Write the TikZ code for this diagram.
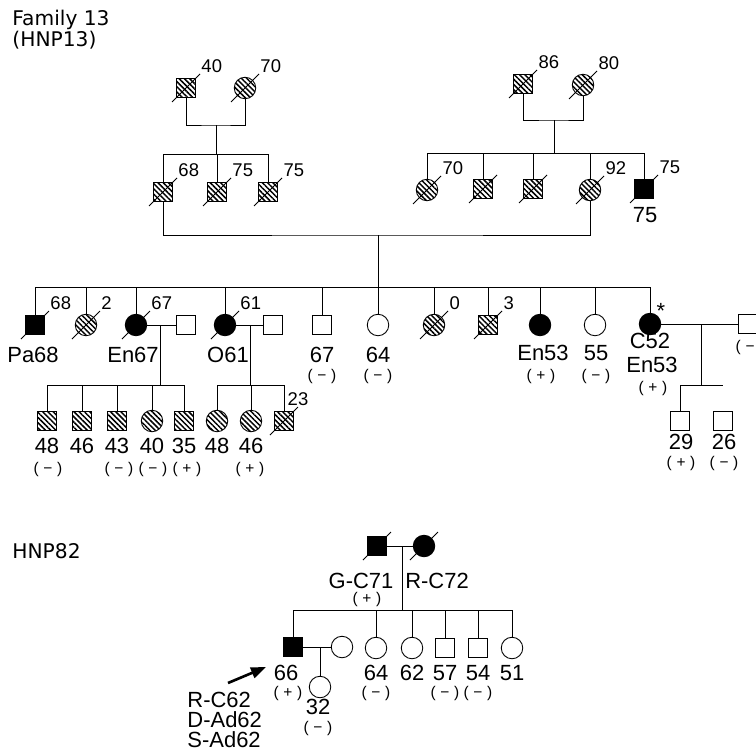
\documentclass[tikz,border=0pt]{standalone}
\usepackage{fontspec}
\setmainfont{Liberation Sans}
\newfontfamily\titulo{DejaVu Sans}
\usetikzlibrary{arrows.meta, patterns.meta}

\newcommand{\muerto}[3][south west]{%
  \draw (#2.center) ++(-14,14) -- ++(28,-28) node[edad, anchor=#1] (#2-e) {#3};}
\newcommand{\resul}[1]{(\hspace{0.3em}#1\hspace{0.3em})}

\begin{document}
\begin{tikzpicture}[x=0.02cm, y=-0.02cm, line width=0.5pt,
  >={Triangle[length=3mm, width=2.2mm]},
  varon/.style={draw, minimum size=3.7mm, inner sep=0pt},
  mujer/.style={draw, circle, minimum size=4.3mm, inner sep=0pt},
  afecto/.style={fill=black},
  rayado/.style={pattern={Lines[angle=-45, distance=2.1pt, line width=0.85pt]}},
  edad/.style={font=\fontsize{10.5}{11}\selectfont, inner sep=0.6pt},
  etiq/.style={font=\fontsize{12.5}{13}\selectfont, inner sep=0pt},
  signo/.style={font=\fontsize{8.8}{9}\selectfont, inner sep=0pt},
  tit/.style={font=\titulo\fontsize{11.5}{14}\selectfont, inner sep=0pt}]
  \useasboundingbox (0,0) rectangle (756,750);
  % títulos
  \node[tit, anchor=base west] (tit1) at (12,26) {Family 13};
  \node[tit, anchor=base west] (tit2) at (12,47) {(HNP13)};
  \node[tit, anchor=base west] (tit3) at (12,558) {HNP82};

  % generación I
  \node[varon, rayado] (I1) at (186,88) {};
  \node[mujer, rayado] (I2) at (245,88) {};
  \node[varon, rayado] (I3) at (523,84) {};
  \node[mujer, rayado] (I4) at (583,85) {};
  \muerto{I1}{40} \muerto{I2}{70} \muerto{I3}{86} \muerto{I4}{80}
  \coordinate (Im) at (216,125); \coordinate (Is) at (216,154);
  \coordinate (Jm) at (554,120); \coordinate (Js) at (554,153);
  \draw (I1.south) |- (Im) -| (I2.south) (Im) -- (Is);
  \draw (I3.south) |- (Jm) -| (I4.south) (Jm) -- (Js);

  % generación II
  \node[varon, rayado] (II1) at (163,192) {};
  \node[varon, rayado] (II2) at (217,192) {};
  \node[varon, rayado] (II3) at (268,192) {};
  \node[mujer, rayado] (II4) at (427,190) {};
  \node[varon, rayado] (II5) at (483,189) {};
  \node[varon, rayado] (II6) at (533,189) {};
  \node[mujer, rayado] (II7) at (590,190) {};
  \node[varon, afecto] (II8) at (644,189) {};
  \muerto{II1}{68} \muerto{II2}{75} \muerto{II3}{75} \muerto{II4}{70}
  \muerto{II5}{} \muerto{II6}{} \muerto{II7}{92} \muerto{II8}{75}
  \node[etiq] (II8-n) at (645,215) {75};
  \draw (Is) -| (II1.north) (Is) -| (II2.north) (Is) -| (II3.north);
  \draw (Js) -| (II4.north) (Js) -| (II5.north) (Js) -| (II6.north)
        (Js) -| (II7.north) (Js) -| (II8.north);
  \coordinate (IIm) at (378,235); \coordinate (IIs) at (378,287);
  \draw (II1.south) |- (IIm) -| (II7.south) (IIm) -- (IIs);

  % generación III
  \node[varon, afecto] (III1) at (35,325) {};
  \node[mujer, rayado] (III2) at (86,325) {};
  \node[mujer, afecto] (III3) at (136,325) {};
  \node[varon] (III4) at (186,325) {};
  \node[mujer, afecto] (III5) at (225,325) {};
  \node[varon] (III6) at (273,325) {};
  \node[varon] (III7) at (322,325) {};
  \node[mujer] (III8) at (378,325) {};
  \node[mujer, rayado] (III9) at (434,325) {};
  \node[varon, rayado] (III10) at (488,325) {};
  \node[mujer, afecto] (III11) at (540,325) {};
  \node[mujer] (III12) at (595,325) {};
  \node[mujer, afecto] (III13) at (650,324) {};
  \node[varon] (III14) at (748,324) {};
  \muerto{III1}{68} \muerto{III2}{2} \muerto{III3}{67} \muerto{III5}{61}
  \muerto{III9}{0} \muerto{III10}{3}
  \draw (IIs) -| (III1.north) (IIs) -| (III2.north) (IIs) -| (III3.north)
        (IIs) -| (III5.north) (IIs) -| (III7.north) (IIs) -- (III8.north)
        (IIs) -| (III9.north) (IIs) -| (III10.north) (IIs) -| (III11.north)
        (IIs) -| (III12.north) (IIs) -| (III13.north);
  \node[etiq] (III1-n) at (33,355) {Pa68};
  \node[etiq] (III3-n) at (133,355) {En67};
  \node[etiq] (III5-n) at (228,355) {O61};
  \node[etiq] (III7-n) at (322,355) {67};
  \node[signo] (III7-s) at (322,376) {\resul{−}};
  \node[etiq] (III8-n) at (378,355) {64};
  \node[signo] (III8-s) at (378,376) {\resul{−}};
  \node[etiq] (III11-n) at (543,353) {En53};
  \node[signo] (III11-s) at (541,376) {\resul{+}};
  \node[etiq] (III12-n) at (596,353) {55};
  \node[signo] (III12-s) at (596,376) {\resul{−}};
  \node[etiq] (III13-a) at (661,311) {*};
  \node[etiq] (III13-n) at (650,341) {C52};
  \node[etiq] (III13-m) at (652,365) {En53};
  \node[signo] (III13-s) at (653,388) {\resul{+}};
  \node[signo] (III14-s) at (750,347) {\resul{−}};
  % parejas
  \coordinate (IIIa) at (160,325); \coordinate (IVa) at (160,385);
  \coordinate (IIIb) at (250,325); \coordinate (IVb) at (250,385);
  \coordinate (IIIc) at (701,324); \coordinate (IVc) at (701,385);
  \draw (III3) -- (III4) (IIIa) -- (IVa);
  \draw (III5) -- (III6) (IIIb) -- (IVb);
  \draw (III13) -- (III14) (IIIc) -- (IVc);

  % generación IV
  \node[varon, rayado] (IV1) at (47,421) {};
  \node[varon, rayado] (IV2) at (82,421) {};
  \node[varon, rayado] (IV3) at (117,421) {};
  \node[mujer, rayado] (IV4) at (152,421) {};
  \node[varon, rayado] (IV5) at (184,421) {};
  \node[mujer, rayado] (IV6) at (217,421) {};
  \node[mujer, rayado] (IV7) at (251,421) {};
  \node[varon, rayado] (IV8) at (284,421) {};
  \node[varon] (IV9) at (680,421) {};
  \node[varon] (IV10) at (723,421) {};
  \muerto[south]{IV8}{23}
  \draw (IVa) -| (IV1.north) (IVa) -| (IV2.north) (IVa) -| (IV3.north)
        (IVa) -| (IV4.north) (IVa) -| (IV5.north);
  \draw (IVb) -| (IV6.north) (IVb) -| (IV7.north) (IVb) -| (IV8.north);
  \draw (IVc) -| (IV9.north) (IVc) -- (IVc -| IV10);
  \node[etiq] (IV1-n) at (47,446) {48};
  \node[etiq] (IV2-n) at (82,446) {46};
  \node[etiq] (IV3-n) at (117,446) {43};
  \node[etiq] (IV4-n) at (152,446) {40};
  \node[etiq] (IV5-n) at (184,446) {35};
  \node[etiq] (IV6-n) at (217,446) {48};
  \node[etiq] (IV7-n) at (251,446) {46};
  \node[signo] (IV1-s) at (48,469) {\resul{−}};
  \node[signo] (IV3-s) at (119,469) {\resul{−}};
  \node[signo] (IV4-s) at (153,469) {\resul{−}};
  \node[signo] (IV5-s) at (187,469) {\resul{+}};
  \node[signo] (IV7-s) at (250,469) {\resul{+}};
  \node[etiq] (IV9-n) at (681,442) {29};
  \node[signo] (IV9-s) at (681,463) {\resul{+}};
  \node[etiq] (IV10-n) at (724,442) {26};
  \node[signo] (IV10-s) at (724,463) {\resul{−}};

  % HNP82
  \node[varon, afecto] (PI1) at (377,546) {};
  \node[mujer, afecto] (PI2) at (424,546) {};
  \muerto{PI1}{} \muerto{PI2}{}
  \coordinate (PIm) at (402,546); \coordinate (PIs) at (402,610);
  \draw (PI1) -- (PI2) (PIm) -- (PIs);
  \node[etiq] (PI1-n) at (361,581) {G-C71};
  \node[signo] (PI1-s) at (367,599) {\resul{+}};
  \node[etiq] (PI2-n) at (437,581) {R-C72};
  \node[varon, afecto] (PII1) at (293,647) {};
  \node[mujer] (PII2) at (342,647) {};
  \node[mujer] (PII3) at (376,648) {};
  \node[mujer] (PII4) at (412,648) {};
  \node[varon] (PII5) at (445,648) {};
  \node[varon] (PII6) at (478,648) {};
  \node[mujer] (PII7) at (512,648) {};
  \draw (PIs) -| (PII1.north) (PIs) -| (PII3.north) (PIs) -| (PII4.north)
        (PIs) -| (PII5.north) (PIs) -| (PII6.north) (PIs) -| (PII7.north);
  \coordinate (PIIm) at (320,647);
  \node[mujer] (PIII1) at (320,687) {};
  \draw (PII1) -- (PII2) (PIIm) -- (PIII1);
  \node[etiq] (PII1-n) at (286,673) {66};
  \node[signo] (PII1-s) at (288,693) {\resul{+}};
  \node[etiq] (PII3-n) at (376,673) {64};
  \node[signo] (PII3-s) at (376,693) {\resul{−}};
  \node[etiq] (PII4-n) at (412,673) {62};
  \node[etiq] (PII5-n) at (445,673) {57};
  \node[signo] (PII5-s) at (445,693) {\resul{−}};
  \node[etiq] (PII6-n) at (478,673) {54};
  \node[signo] (PII6-s) at (478,693) {\resul{−}};
  \node[etiq] (PII7-n) at (512,673) {51};
  \node[etiq] (PIII1-n) at (318,707) {32};
  \node[signo] (PIII1-s) at (318,728) {\resul{−}};
  % probando
  \coordinate (fa) at (228,683); \coordinate (fb) at (266,667);
  \draw[->, line width=1.5pt] (fa) -- (fb);
  \node[etiq, align=left, anchor=west, font=\fontsize{12.5}{11.6}\selectfont] (prob) at (187,720) {R-C62\\D-Ad62\\S-Ad62};
\end{tikzpicture}
\end{document}
